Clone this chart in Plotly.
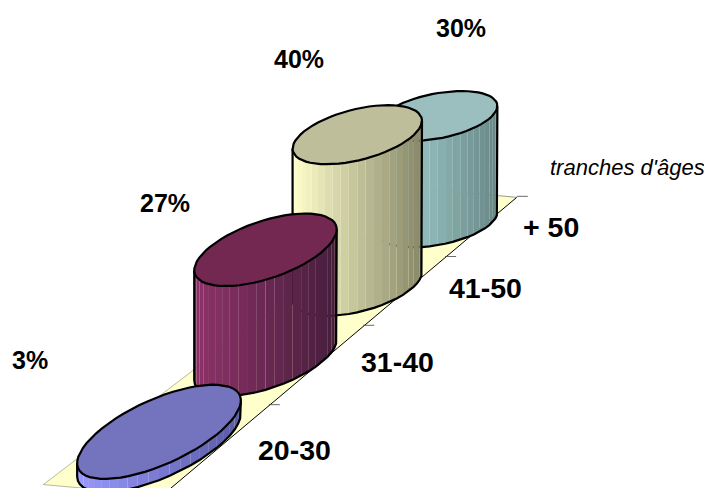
import math
import plotly.graph_objects as go

# Chart data
categories = ["20-30", "31-40", "41-50", "+ 50"]
shares = [3, 27, 40, 30]
axis_title = "tranches d'âges"

# Face and side colours per age band
top_colors = ["#7373BE", "#722850", "#BEBE9B", "#9BBEBE"]
side_left = [(153, 153, 255), (142, 50, 105), (255, 255, 204), (170, 220, 220)]
side_right = [(90, 90, 165), (70, 30, 60), (135, 135, 105), (105, 135, 135)]
FLOOR_COLOR = "#FFFFCC"

# Where the text sits on the canvas
share_label_pos = [(30, 360), (165, 203), (299, 59), (461, 28)]
cat_label_pos = [(294, 450), (397, 362), (485, 288), (551, 227)]

W, H = 704, 488
FACETS = 24


# Oblique view with perspective foreshortening along the age axis
def depth(i):
    return i / (1 + 0.08 * i)


def floor_xy(i, v=0.0):
    return 159 + 115 * depth(i) + v, 445 - 92 * depth(i) + 0.09 * v


def half_width(i):
    return 57 / (1 + 0.09 * i)


def height_px(i, value):
    return 4.4 * value / (1 + 0.08 * i)


def disc_vectors(i):
    dy = 47 / (1 + 0.3 * i)
    across = 57 / (1 + 0.035 * i)
    return (dy * 1.25, -dy), (across, 0.06 * across)


def disc_point(cx, cy, p, q, t):
    return (cx + p[0] * math.cos(t) + q[0] * math.sin(t),
            cy + p[1] * math.cos(t) + q[1] * math.sin(t))


fig = go.Figure()


def poly(xs, ys, fill=None, line=None, width=0):
    fig.add_trace(go.Scatter(
        x=xs, y=ys, mode="lines", hoverinfo="skip", showlegend=False,
        fill="toself" if fill else None, fillcolor=fill,
        line=dict(color=line or "rgba(0,0,0,0)", width=width),
    ))


# Floor of the chart
FRONT, BACK = -0.47, 3.5
hw0, hw1 = half_width(FRONT), half_width(BACK)
corners = [floor_xy(FRONT, -hw0), floor_xy(FRONT, hw0), floor_xy(BACK, hw1), floor_xy(BACK, -hw1)]
poly([c[0] for c in corners] + [corners[0][0]], [c[1] for c in corners] + [corners[0][1]], fill=FLOOR_COLOR)
poly([corners[1][0], corners[2][0]], [corners[1][1], corners[2][1]], line="#000000", width=1)
poly([corners[2][0], corners[3][0]], [corners[2][1], corners[3][1]], line="#555555", width=0.6)
poly([corners[3][0], corners[0][0]], [corners[3][1], corners[0][1]], line="#8a8a6a", width=0.6)
poly([corners[0][0], corners[1][0]], [corners[0][1], corners[1][1]], line="#8a8a6a", width=0.6)

# Tick marks between the age bands
for k in range(4):
    b = k + 0.5
    x0, y0 = floor_xy(b, half_width(b))
    poly([x0, x0 + 11], [y0 - 1, y0 - 1], line="#444444", width=0.8)

# Cylinders, furthest first
for i in range(len(shares) - 1, -1, -1):
    bx, by = floor_xy(i)
    h = height_px(i, shares[i])
    p, q = disc_vectors(i)
    t0 = math.atan2(q[0], p[0])
    ts = [t0 + math.pi * k / FACETS for k in range(FACETS + 1)]
    base = [disc_point(bx, by, p, q, t) for t in ts]

    # Side wall, shaded facet by facet from left to right
    for k in range(FACETS):
        a, b = base[k], base[k + 1]
        mid = (a[0] + b[0]) / 2
        f = (bx + math.hypot(p[0], q[0]) - mid) / (2 * math.hypot(p[0], q[0]))
        rgb = [round(side_right[i][c] + (side_left[i][c] - side_right[i][c]) * f) for c in range(3)]
        poly([a[0], b[0], b[0], a[0], a[0]], [a[1], b[1], b[1] - h, a[1] - h, a[1]],
             fill=f"rgb({rgb[0]},{rgb[1]},{rgb[2]})")

    # Silhouette of the wall
    poly([base[0][0]] + [c[0] for c in base] + [base[-1][0]],
         [base[0][1] - h] + [c[1] for c in base] + [base[-1][1] - h],
         line="#000000", width=2.2)

    # Top face
    rim = [disc_point(bx, by - h, p, q, 2 * math.pi * k / 60) for k in range(61)]
    poly([c[0] for c in rim], [c[1] for c in rim], fill=top_colors[i], line="#000000", width=2.2)

annotations = []
for (x, y), value in zip(share_label_pos, shares):
    annotations.append(dict(x=x, y=y, text=f"<b>{value}%</b>", showarrow=False,
                            font=dict(size=25, color="#000000")))
for (x, y), label in zip(cat_label_pos, categories):
    annotations.append(dict(x=x, y=y, text=f"<b>{label}</b>", showarrow=False,
                            font=dict(size=28.5, color="#000000")))
annotations.append(dict(x=627, y=167, text=f"<i>{axis_title}</i>", showarrow=False,
                        font=dict(size=22, color="#000000")))

fig.update_layout(
    width=W, height=H, margin=dict(l=0, r=0, t=0, b=0),
    paper_bgcolor="#FFFFFF", plot_bgcolor="#FFFFFF",
    font=dict(family="Liberation Sans, Arial, sans-serif"),
    xaxis=dict(range=[0, W], visible=False, fixedrange=True),
    yaxis=dict(range=[H, 0], visible=False, fixedrange=True),
    annotations=annotations,
)

fig.write_html("out.html", config={"displayModeBar": False})
